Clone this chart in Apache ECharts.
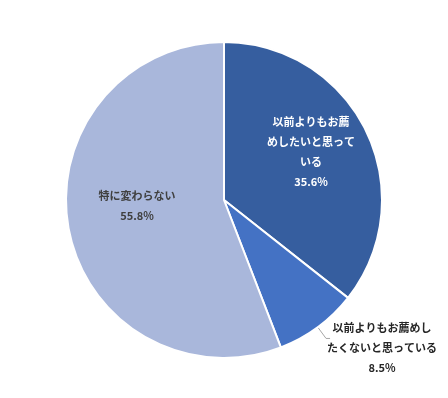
<!DOCTYPE html>
<html>
<head>
<meta charset="utf-8">
<script src="https://cdn.jsdelivr.net/npm/echarts@6/dist/echarts.min.js"></script>
<style>
  html, body { margin: 0; padding: 0; background: #fff; }
  #main { width: 448px; height: 398px; }
</style>
</head>
<body>
<div id="main"></div>
<script>
const names = ["以前よりもお薦\nめしたいと思って\nいる", "以前よりもお薦めし\nたくないと思っている", "特に変わらない"];
const values = [35.6, 8.5, 55.8];
const colors = ["#365e9f", "#4472c4", "#a9b7db"];
const labelColors = ["#ffffff", "#262626", "#404040"];
// label block centres (Excel placed them by hand)
const labelPos = [[311, 152], [382, 348], [137, 206]];

const myChart = echarts.init(document.getElementById("main"));

const data = names.map((n, i) => ({
  name: n,
  value: values[i],
  itemStyle: { color: colors[i] },
  label: {
    position: i === 1 ? "outside" : "inside",
    color: labelColors[i],
  },
}));

const option = {
  animation: false,
  series: [
    {
      type: "pie",
      center: [224, 200],
      radius: [0, 158],
      startAngle: 90,
      clockwise: true,
      data: data,
      itemStyle: { borderColor: "#fff", borderWidth: 2 },
      label: {
        formatter: (p) => p.name + "\n" + p.value.toFixed(1) + "%",
        fontFamily: "Noto Sans CJK JP",
        fontSize: 11,
        fontWeight: "bold",
        lineHeight: 20,
        align: "center",
        overflow: "none",
      },
      labelLine: {
        show: true,
        length: 14,
        length2: 4,
        lineStyle: { color: "#a6a6a6", width: 1 },
      },
      labelLayout: (params) => {
        const pos = labelPos[params.dataIndex];
        const res = { x: pos[0], y: pos[1], align: "center", verticalAlign: "middle" };
        if (params.labelLinePoints) res.labelLinePoints = params.labelLinePoints;
        return res;
      },
    },
  ],
};
myChart.setOption(option);
</script>
</body>
</html>
